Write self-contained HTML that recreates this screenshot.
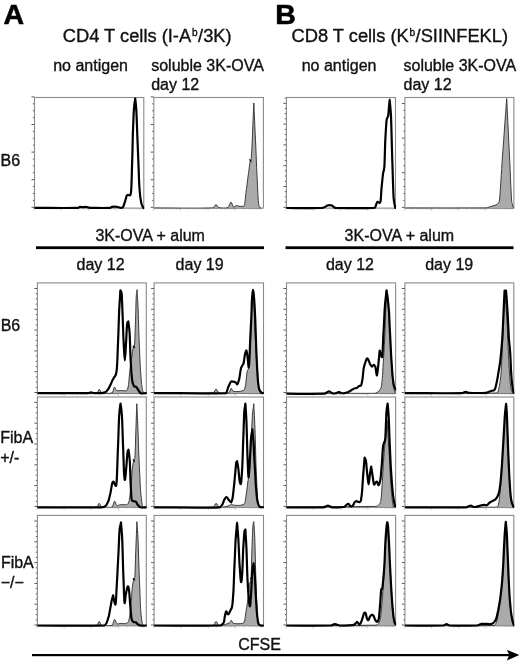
<!DOCTYPE html>
<html><head><meta charset="utf-8"><title>CFSE histograms</title>
<style>
html,body{margin:0;padding:0;background:#fff;}
body{width:520px;height:661px;overflow:hidden;}
svg{display:block;will-change:transform;}
text{font-family:"Liberation Sans",sans-serif;fill:#111;stroke:#111;stroke-width:0.35px;}
</style></head>
<body>
<svg width="520" height="661" viewBox="0 0 520 661">
<rect width="520" height="661" fill="#fff"/>
<clipPath id="c11"><rect x="34.5" y="97.0" width="109.3" height="111.2"/></clipPath>
<clipPath id="c11k"><rect x="34.5" y="97.0" width="109.8" height="113.6"/></clipPath>
<path d="M34.5,207.3 h-3 M34.5,200.4 h-1.6 M34.5,193.5 h-1.6 M34.5,186.6 h-1.6 M34.5,179.7 h-3 M34.5,172.8 h-1.6 M34.5,165.9 h-1.6 M34.5,159 h-1.6 M34.5,152.1 h-3 M34.5,145.2 h-1.6 M34.5,138.3 h-1.6 M34.5,131.4 h-1.6 M34.5,124.5 h-3 M34.5,117.6 h-1.6 M34.5,110.7 h-1.6 M34.5,103.8 h-1.6 M34.5,96.9 h-3" stroke="#555" stroke-width="1" fill="none"/>
<path d="M34,208.1 v2.6 M42.23,208.1 v1.4 M47.04,208.1 v1.4 M50.45,208.1 v1.4 M53.1,208.1 v1.4 M55.26,208.1 v1.4 M57.09,208.1 v1.4 M58.68,208.1 v1.4 M60.07,208.1 v1.4 M61.33,208.1 v2.6 M69.55,208.1 v1.4 M74.36,208.1 v1.4 M77.78,208.1 v1.4 M80.42,208.1 v1.4 M82.59,208.1 v1.4 M84.42,208.1 v1.4 M86,208.1 v1.4 M87.4,208.1 v1.4 M88.65,208.1 v2.6 M96.88,208.1 v1.4 M101.69,208.1 v1.4 M105.1,208.1 v1.4 M107.75,208.1 v1.4 M109.91,208.1 v1.4 M111.74,208.1 v1.4 M113.33,208.1 v1.4 M114.72,208.1 v1.4 M115.98,208.1 v2.6 M124.2,208.1 v1.4 M129.01,208.1 v1.4 M132.43,208.1 v1.4 M135.07,208.1 v1.4 M137.24,208.1 v1.4 M139.07,208.1 v1.4 M140.65,208.1 v1.4 M142.05,208.1 v1.4" stroke="#bbb" stroke-width="0.8" fill="none"/>
<rect x="34.5" y="97.5" width="109.3" height="110.6" fill="none" stroke="#8a8a8a" stroke-width="1.1"/>
<g clip-path="url(#c11k)"><path d="M34.5,207.9 C49,207.9 63.5,208.17 78,207.9 C78.67,207.89 79.33,206.97 80,206.89 C81,206.77 82,207.21 83,207.2 C84,207.18 85,206.74 86,206.79 C87,206.85 88,207.44 89,207.6 C90,207.75 91,207.89 92,207.9 C98,207.97 104,208.16 110,207.9 C110.67,207.87 111.33,207.03 112,206.89 C113,206.69 114,206.66 115,206.69 C116,206.72 117,206.92 118,207.1 C119,207.27 120,207.9 121,207.9 C121.67,207.9 122.33,207.99 123,207.1 C123.67,206.2 124.33,203.29 125,201.56 C125.6,200.01 126.2,196.69 126.8,195.53 C127.2,194.76 127.6,194.78 128,194.73 C128.8,194.61 129.6,196.21 130.4,194.93 C130.7,194.45 131,193.39 131.3,188.49 C131.6,183.59 131.9,169.09 132.2,160.34 C132.47,152.56 132.73,136.76 133,130.18 C133.33,121.95 133.67,112.13 134,108.05 C134.4,103.16 134.8,100.89 135.2,98.5 C135.57,101.39 135.93,104.41 136.3,110.07 C136.7,116.23 137.1,131.68 137.5,140.23 C137.83,147.35 138.17,158.25 138.5,165.37 C138.77,171.07 139.03,181.72 139.3,185.48 C139.7,191.12 140.1,196.05 140.5,198.55 C141,201.67 141.5,204.02 142,205.29 C142.57,206.72 143.13,207.16 143.7,208.1" fill="none" stroke="#000" stroke-width="2.2" stroke-linejoin="round" stroke-linecap="round"/></g>
<clipPath id="c12"><rect x="153.8" y="97.0" width="109.6" height="111.2"/></clipPath>
<clipPath id="c12k"><rect x="153.8" y="97.0" width="110.1" height="113.6"/></clipPath>
<path d="M153.8,207.3 h-3 M153.8,200.4 h-1.6 M153.8,193.5 h-1.6 M153.8,186.6 h-1.6 M153.8,179.7 h-3 M153.8,172.8 h-1.6 M153.8,165.9 h-1.6 M153.8,159 h-1.6 M153.8,152.1 h-3 M153.8,145.2 h-1.6 M153.8,138.3 h-1.6 M153.8,131.4 h-1.6 M153.8,124.5 h-3 M153.8,117.6 h-1.6 M153.8,110.7 h-1.6 M153.8,103.8 h-1.6 M153.8,96.9 h-3" stroke="#555" stroke-width="1" fill="none"/>
<path d="M153.3,208.1 v2.6 M161.55,208.1 v1.4 M166.37,208.1 v1.4 M169.8,208.1 v1.4 M172.45,208.1 v1.4 M174.62,208.1 v1.4 M176.46,208.1 v1.4 M178.04,208.1 v1.4 M179.45,208.1 v1.4 M180.7,208.1 v2.6 M188.95,208.1 v1.4 M193.77,208.1 v1.4 M197.2,208.1 v1.4 M199.85,208.1 v1.4 M202.02,208.1 v1.4 M203.86,208.1 v1.4 M205.44,208.1 v1.4 M206.85,208.1 v1.4 M208.1,208.1 v2.6 M216.35,208.1 v1.4 M221.17,208.1 v1.4 M224.6,208.1 v1.4 M227.25,208.1 v1.4 M229.42,208.1 v1.4 M231.26,208.1 v1.4 M232.84,208.1 v1.4 M234.25,208.1 v1.4 M235.5,208.1 v2.6 M243.75,208.1 v1.4 M248.57,208.1 v1.4 M252,208.1 v1.4 M254.65,208.1 v1.4 M256.82,208.1 v1.4 M258.66,208.1 v1.4 M260.24,208.1 v1.4 M261.65,208.1 v1.4" stroke="#bbb" stroke-width="0.8" fill="none"/>
<rect x="153.8" y="97.5" width="109.6" height="110.6" fill="none" stroke="#8a8a8a" stroke-width="1.1"/>
<g clip-path="url(#c12)"><path d="M154.5,208 C174,208 193.5,208.92 213,208 C214,207.95 215,204.64 216,204.58 C216.83,204.53 217.67,207.42 218.5,207.6 C221.67,208.27 224.83,208.79 228,207.6 C229,207.22 230,202.15 231,202.07 C231.83,202 232.67,206.6 233.5,207.1 C234.33,207.59 235.17,205.73 236,205.59 C236.83,205.44 237.67,206.01 238.5,206.09 C240,206.24 241.5,206.71 243,206.39 C243.5,206.28 244,206.75 244.5,204.58 C245.17,201.68 245.83,192.91 246.5,188.49 C247.17,184.08 247.83,177.64 248.5,173.41 C249,170.24 249.5,164.66 250,162.35 C250.33,160.81 250.67,161.74 251,159.84 C251.27,158.32 251.53,154.68 251.8,150.29 C252.27,142.6 252.73,126.58 253.2,117.2 C253.4,113.19 253.6,106.57 253.8,103.03 C253.97,105.82 254.14,111.03 254.31,114.19 C254.71,121.57 255.1,132.56 255.5,140.23 C256,149.9 256.5,166.27 257,175.42 C257.43,183.36 257.87,195.89 258.3,200.56 C258.7,204.87 259.1,206.16 259.5,207.1 C260,208.27 260.5,207.7 261,208 L261,208.6 L154.5,208.6 Z" fill="#aaaaaa" stroke="#333" stroke-width="0.95" stroke-linejoin="round"/></g>
<clipPath id="c13"><rect x="286.4" y="97.0" width="109.1" height="111.2"/></clipPath>
<clipPath id="c13k"><rect x="286.4" y="97.0" width="109.6" height="113.6"/></clipPath>
<path d="M286.4,207.3 h-3 M286.4,202.1 h-1.6 M286.4,196.9 h-1.6 M286.4,191.7 h-1.6 M286.4,186.5 h-3 M286.4,181.3 h-1.6 M286.4,176.1 h-1.6 M286.4,170.9 h-1.6 M286.4,165.7 h-3 M286.4,160.5 h-1.6 M286.4,155.3 h-1.6 M286.4,150.1 h-1.6 M286.4,144.9 h-3 M286.4,139.7 h-1.6 M286.4,134.5 h-1.6 M286.4,129.3 h-1.6 M286.4,124.1 h-3 M286.4,118.9 h-1.6 M286.4,113.7 h-1.6 M286.4,108.5 h-1.6 M286.4,103.3 h-3 M286.4,98.1 h-1.6" stroke="#555" stroke-width="1" fill="none"/>
<path d="M285.9,208.1 v2.6 M294.11,208.1 v1.4 M298.91,208.1 v1.4 M302.32,208.1 v1.4 M304.96,208.1 v1.4 M307.12,208.1 v1.4 M308.95,208.1 v1.4 M310.53,208.1 v1.4 M311.93,208.1 v1.4 M313.17,208.1 v2.6 M321.39,208.1 v1.4 M326.19,208.1 v1.4 M329.6,208.1 v1.4 M332.24,208.1 v1.4 M334.4,208.1 v1.4 M336.23,208.1 v1.4 M337.81,208.1 v1.4 M339.2,208.1 v1.4 M340.45,208.1 v2.6 M348.66,208.1 v1.4 M353.46,208.1 v1.4 M356.87,208.1 v1.4 M359.51,208.1 v1.4 M361.67,208.1 v1.4 M363.5,208.1 v1.4 M365.08,208.1 v1.4 M366.48,208.1 v1.4 M367.73,208.1 v2.6 M375.94,208.1 v1.4 M380.74,208.1 v1.4 M384.15,208.1 v1.4 M386.79,208.1 v1.4 M388.95,208.1 v1.4 M390.78,208.1 v1.4 M392.36,208.1 v1.4 M393.75,208.1 v1.4" stroke="#bbb" stroke-width="0.8" fill="none"/>
<rect x="286.4" y="97.5" width="109.1" height="110.6" fill="none" stroke="#8a8a8a" stroke-width="1.1"/>
<g clip-path="url(#c13k)"><path d="M286.5,208 C298.33,208 310.17,208.26 322,208 C323,207.98 324,207.4 325,206.99 C325.77,206.69 326.53,205.76 327.3,205.49 C328.07,205.22 328.83,205.07 329.6,205.08 C330.37,205.1 331.13,205.27 331.9,205.59 C332.6,205.87 333.3,206.85 334,207.2 C334.67,207.53 335.33,207.99 336,208 C348.67,208.22 361.33,208.38 374,208 C374.5,207.98 375,207.39 375.5,206.59 C376.07,205.68 376.63,202.45 377.2,201.97 C378.3,201.03 379.4,204.64 380.5,201.56 C380.87,200.54 381.23,190.86 381.6,187.49 C382.1,182.89 382.6,176.62 383.1,173.41 C383.53,170.63 383.97,171.93 384.4,166.37 C384.7,162.53 385,145.59 385.3,140.23 C385.73,132.49 386.17,123.3 386.6,120.12 C387.1,116.46 387.6,118.63 388.1,116.1 C388.47,114.2 388.85,107.78 389.22,104.49 C389.38,103.08 389.54,99.51 389.7,99.51 C389.83,99.51 389.96,103.08 390.09,104.49 C390.39,107.78 390.7,109.58 391,116.1 C391.43,125.41 391.87,148.8 392.3,160.34 C392.73,171.88 393.17,191.88 393.6,197.54 C394.2,205.38 394.8,204.51 395.4,208" fill="none" stroke="#000" stroke-width="2.2" stroke-linejoin="round" stroke-linecap="round"/></g>
<clipPath id="c14"><rect x="404.9" y="97.0" width="109" height="111.2"/></clipPath>
<clipPath id="c14k"><rect x="404.9" y="97.0" width="109.5" height="113.6"/></clipPath>
<path d="M404.9,207.3 h-3 M404.9,200.38 h-1.6 M404.9,193.46 h-1.6 M404.9,186.54 h-1.6 M404.9,179.62 h-1.6 M404.9,172.7 h-3 M404.9,165.78 h-1.6 M404.9,158.86 h-1.6 M404.9,151.94 h-1.6 M404.9,145.02 h-1.6 M404.9,138.1 h-3 M404.9,131.18 h-1.6 M404.9,124.26 h-1.6 M404.9,117.34 h-1.6 M404.9,110.42 h-1.6 M404.9,103.5 h-3" stroke="#555" stroke-width="1" fill="none"/>
<path d="M404.4,208.1 v2.6 M412.6,208.1 v1.4 M417.4,208.1 v1.4 M420.81,208.1 v1.4 M423.45,208.1 v1.4 M425.6,208.1 v1.4 M427.43,208.1 v1.4 M429.01,208.1 v1.4 M430.4,208.1 v1.4 M431.65,208.1 v2.6 M439.85,208.1 v1.4 M444.65,208.1 v1.4 M448.06,208.1 v1.4 M450.7,208.1 v1.4 M452.85,208.1 v1.4 M454.68,208.1 v1.4 M456.26,208.1 v1.4 M457.65,208.1 v1.4 M458.9,208.1 v2.6 M467.1,208.1 v1.4 M471.9,208.1 v1.4 M475.31,208.1 v1.4 M477.95,208.1 v1.4 M480.1,208.1 v1.4 M481.93,208.1 v1.4 M483.51,208.1 v1.4 M484.9,208.1 v1.4 M486.15,208.1 v2.6 M494.35,208.1 v1.4 M499.15,208.1 v1.4 M502.56,208.1 v1.4 M505.2,208.1 v1.4 M507.35,208.1 v1.4 M509.18,208.1 v1.4 M510.76,208.1 v1.4 M512.15,208.1 v1.4" stroke="#bbb" stroke-width="0.8" fill="none"/>
<rect x="404.9" y="97.5" width="109" height="110.6" fill="none" stroke="#8a8a8a" stroke-width="1.1"/>
<g clip-path="url(#c14)"><path d="M405.5,208 C432.33,208 459.17,208.25 486,208 C487,207.99 488,207.35 489,207.1 C490,206.84 491,206.43 492,206.19 C493,205.95 494,205.69 495,205.39 C495.67,205.18 496.33,204.87 497,204.38 C497.5,204.01 498,203.12 498.5,202.37 C498.83,201.87 499.17,203.3 499.5,199.96 C500.67,188.26 501.83,163.31 503,149.28 C503.86,138.9 504.73,123.86 505.59,113.81 C505.96,109.5 506.33,102.4 506.7,98.6 C506.95,102.48 507.2,109.71 507.45,114.11 C508.03,124.36 508.62,140.03 509.2,150.29 C510,164.35 510.8,188.53 511.6,199.96 C511.87,203.77 512.13,203.09 512.4,204.08 C512.7,205.19 513,206.77 513.3,207.4 C513.53,207.88 513.77,207.8 514,208 L514,208.6 L405.5,208.6 Z" fill="#aaaaaa" stroke="#333" stroke-width="0.95" stroke-linejoin="round"/></g>
<clipPath id="c21"><rect x="37.4" y="282.4" width="108.9" height="111"/></clipPath>
<clipPath id="c21k"><rect x="37.4" y="282.4" width="109.4" height="113.4"/></clipPath>
<path d="M37.4,392.5 h-3 M37.4,387.3 h-1.6 M37.4,382.1 h-1.6 M37.4,376.9 h-1.6 M37.4,371.7 h-3 M37.4,366.5 h-1.6 M37.4,361.3 h-1.6 M37.4,356.1 h-1.6 M37.4,350.9 h-3 M37.4,345.7 h-1.6 M37.4,340.5 h-1.6 M37.4,335.3 h-1.6 M37.4,330.1 h-3 M37.4,324.9 h-1.6 M37.4,319.7 h-1.6 M37.4,314.5 h-1.6 M37.4,309.3 h-3 M37.4,304.1 h-1.6 M37.4,298.9 h-1.6 M37.4,293.7 h-1.6 M37.4,288.5 h-3" stroke="#555" stroke-width="1" fill="none"/>
<path d="M36.9,393.3 v2.6 M45.1,393.3 v1.4 M49.89,393.3 v1.4 M53.29,393.3 v1.4 M55.93,393.3 v1.4 M58.09,393.3 v1.4 M59.91,393.3 v1.4 M61.49,393.3 v1.4 M62.88,393.3 v1.4 M64.12,393.3 v2.6 M72.32,393.3 v1.4 M77.11,393.3 v1.4 M80.52,393.3 v1.4 M83.15,393.3 v1.4 M85.31,393.3 v1.4 M87.13,393.3 v1.4 M88.71,393.3 v1.4 M90.1,393.3 v1.4 M91.35,393.3 v2.6 M99.55,393.3 v1.4 M104.34,393.3 v1.4 M107.74,393.3 v1.4 M110.38,393.3 v1.4 M112.54,393.3 v1.4 M114.36,393.3 v1.4 M115.94,393.3 v1.4 M117.33,393.3 v1.4 M118.58,393.3 v2.6 M126.77,393.3 v1.4 M131.56,393.3 v1.4 M134.97,393.3 v1.4 M137.6,393.3 v1.4 M139.76,393.3 v1.4 M141.58,393.3 v1.4 M143.16,393.3 v1.4 M144.55,393.3 v1.4" stroke="#bbb" stroke-width="0.8" fill="none"/>
<rect x="37.4" y="282.9" width="108.9" height="110.4" fill="none" stroke="#8a8a8a" stroke-width="1.1"/>
<g clip-path="url(#c21)"><path d="M37.5,393.1 C57.33,393.1 77.17,394.14 97,393.1 C97.77,393.06 98.53,389.27 99.3,389.27 C100.07,389.27 100.83,392.92 101.6,393.1 C105.17,393.92 108.73,394.18 112.3,392.8 C113,392.53 113.7,387.57 114.4,387.25 C115.17,386.91 115.93,390.18 116.7,390.48 C118.23,391.09 119.77,390.48 121.3,390.48 C123.07,390.48 124.83,391.43 126.6,390.48 C127.17,390.17 127.73,389.1 128.3,386.05 C128.9,382.81 129.5,372.56 130.1,368.31 C130.7,364.05 131.3,359.39 131.9,356.01 C132.37,353.39 132.83,348.76 133.3,347.14 C133.7,345.76 134.1,349.15 134.5,345.43 C134.8,342.64 135.1,331.35 135.4,324.17 C135.67,317.78 135.93,302.65 136.2,297.56 C136.41,293.55 136.62,293.62 136.83,292.06 C136.92,291.39 137.01,289.32 137.1,289.7 C137.19,290.07 137.28,293.29 137.37,294.72 C137.58,298.03 137.79,301.83 138,306.43 C138.4,315.18 138.8,333.24 139.2,341.8 C139.67,351.8 140.13,366.01 140.6,371.94 C141.2,379.55 141.8,386.49 142.4,389.57 C142.97,392.49 143.53,391.92 144.1,393.1 L144.1,393.8 L37.5,393.8 Z" fill="#aaaaaa" stroke="#333" stroke-width="0.95" stroke-linejoin="round"/></g>
<g clip-path="url(#c21k)"><path d="M37.5,393.1 C54.33,393.1 71.17,393.29 88,393.1 C89,393.09 90,392.39 91,392.39 C92,392.39 93,393.04 94,393.1 C96.33,393.24 98.67,393.2 101,393.1 C102,393.06 103,392.88 104,392.6 C104.83,392.36 105.67,391.89 106.5,391.29 C107.17,390.8 107.83,389.69 108.5,388.77 C109.17,387.84 109.83,385.95 110.5,384.74 C111.17,383.52 111.83,381.33 112.5,380.2 C113.1,379.19 113.7,378.06 114.3,377.18 C114.87,376.34 115.43,376.04 116,374.15 C116.33,373.04 116.67,371.2 117,366.59 C117.4,361.07 117.8,347.1 118.2,338.38 C118.53,331.11 118.87,316.62 119.2,310.16 C119.48,304.73 119.76,300.3 120.04,296.4 C120.16,294.73 120.28,291.16 120.4,290.5 C120.53,289.79 120.66,291.26 120.79,291.56 C121.09,292.26 121.4,290.66 121.7,294.03 C122,297.36 122.3,308.78 122.6,315.2 C122.93,322.32 123.27,335.97 123.6,341.8 C124,348.8 124.4,360.45 124.8,360.45 C125.23,360.45 125.67,347.61 126.1,341.8 C126.43,337.33 126.77,326.79 127.1,324.17 C127.5,321.02 127.9,322.12 128.3,321.44 C128.73,324.32 129.17,326.83 129.6,332.93 C129.93,337.63 130.27,354.33 130.6,359.54 C131.13,367.87 131.67,377.17 132.2,380.7 C132.8,384.68 133.4,385.25 134,386.05 C134.73,387.02 135.47,386.4 136.2,386.95 C136.8,387.4 137.4,388.86 138,389.57 C138.87,390.6 139.73,392.78 140.6,393.1 C142.4,393.77 144.2,393.1 146,393.1" fill="none" stroke="#000" stroke-width="2.2" stroke-linejoin="round" stroke-linecap="round"/></g>
<clipPath id="c22"><rect x="154.1" y="282.4" width="109.4" height="111"/></clipPath>
<clipPath id="c22k"><rect x="154.1" y="282.4" width="109.9" height="113.4"/></clipPath>
<path d="M154.1,392.5 h-3 M154.1,387.3 h-1.6 M154.1,382.1 h-1.6 M154.1,376.9 h-1.6 M154.1,371.7 h-3 M154.1,366.5 h-1.6 M154.1,361.3 h-1.6 M154.1,356.1 h-1.6 M154.1,350.9 h-3 M154.1,345.7 h-1.6 M154.1,340.5 h-1.6 M154.1,335.3 h-1.6 M154.1,330.1 h-3 M154.1,324.9 h-1.6 M154.1,319.7 h-1.6 M154.1,314.5 h-1.6 M154.1,309.3 h-3 M154.1,304.1 h-1.6 M154.1,298.9 h-1.6 M154.1,293.7 h-1.6 M154.1,288.5 h-3" stroke="#555" stroke-width="1" fill="none"/>
<path d="M153.6,393.3 v2.6 M161.83,393.3 v1.4 M166.65,393.3 v1.4 M170.07,393.3 v1.4 M172.72,393.3 v1.4 M174.88,393.3 v1.4 M176.71,393.3 v1.4 M178.3,393.3 v1.4 M179.7,393.3 v1.4 M180.95,393.3 v2.6 M189.18,393.3 v1.4 M194,393.3 v1.4 M197.42,393.3 v1.4 M200.07,393.3 v1.4 M202.23,393.3 v1.4 M204.06,393.3 v1.4 M205.65,393.3 v1.4 M207.05,393.3 v1.4 M208.3,393.3 v2.6 M216.53,393.3 v1.4 M221.35,393.3 v1.4 M224.77,393.3 v1.4 M227.42,393.3 v1.4 M229.58,393.3 v1.4 M231.41,393.3 v1.4 M233,393.3 v1.4 M234.4,393.3 v1.4 M235.65,393.3 v2.6 M243.88,393.3 v1.4 M248.7,393.3 v1.4 M252.12,393.3 v1.4 M254.77,393.3 v1.4 M256.93,393.3 v1.4 M258.76,393.3 v1.4 M260.35,393.3 v1.4 M261.75,393.3 v1.4" stroke="#bbb" stroke-width="0.8" fill="none"/>
<rect x="154.1" y="282.9" width="109.4" height="110.4" fill="none" stroke="#8a8a8a" stroke-width="1.1"/>
<g clip-path="url(#c22)"><path d="M154.5,393.1 C174.1,393.1 193.7,394.19 213.3,393.1 C214.2,393.05 215.1,389.07 216,389.07 C217,389.07 218,392.86 219,393.1 C222.33,393.91 225.67,393.91 229,392.8 C229.77,392.54 230.53,388.51 231.3,388.26 C231.87,388.08 232.43,391.2 233,391.29 C236.53,391.83 240.07,391.75 243.6,390.48 C244.2,390.26 244.8,388.75 245.4,386.05 C245.97,383.49 246.53,374.61 247.1,371.94 C247.7,369.1 248.3,370.55 248.9,366.59 C249.37,363.52 249.83,354.99 250.3,347.14 C250.7,340.42 251.1,323.51 251.5,315.2 C251.76,309.86 252.01,303.57 252.27,298.97 C252.38,297 252.49,293.75 252.6,292.02 C252.72,292.62 252.84,293.75 252.96,294.43 C253.24,296.03 253.52,295.89 253.8,300.08 C254.2,306.06 254.6,322.15 255,330.31 C255.3,336.43 255.6,345.9 255.9,350.47 C256.5,359.61 257.1,372.73 257.7,378.69 C258.27,384.32 258.83,389.28 259.4,391.39 C259.93,393.37 260.47,392.53 261,393.1 L261,393.8 L154.5,393.8 Z" fill="#aaaaaa" stroke="#333" stroke-width="0.95" stroke-linejoin="round"/></g>
<g clip-path="url(#c22k)"><path d="M154.5,393.1 C178.33,393.1 202.17,393.58 226,393.1 C226.3,393.09 226.6,392.05 226.9,391.39 C227.5,390.05 228.1,387.25 228.7,386.05 C229.47,384.51 230.23,382.35 231,381.71 C231.7,381.13 232.4,381.61 233.1,381.71 C233.97,381.84 234.83,382.1 235.7,382.52 C236.3,382.81 236.9,384.75 237.5,384.23 C238.07,383.75 238.63,381.18 239.2,378.99 C239.8,376.67 240.4,370.57 241,368.31 C241.4,366.8 241.8,366.37 242.2,365.69 C242.67,364.89 243.13,364.69 243.6,363.07 C244.07,361.44 244.53,355.91 245,354.2 C245.5,352.37 246,350.18 246.5,350.57 C246.83,350.83 247.17,354.42 247.5,356.52 C247.93,359.24 248.37,367.78 248.8,367.6 C249.07,367.49 249.33,360.11 249.6,355.51 C249.87,350.91 250.13,340.14 250.4,335.15 C250.7,329.54 251,323.91 251.3,318.12 C251.5,314.26 251.7,304.64 251.9,301.09 C252.1,297.53 252.3,294.75 252.5,293.02 C252.67,291.58 252.83,289.9 253,289.9 C253.2,289.9 253.4,291.56 253.6,293.02 C253.83,294.73 254.07,297.98 254.3,301.09 C254.6,305.09 254.9,312.33 255.2,318.12 C255.4,321.98 255.6,330.31 255.8,335.15 C256,339.99 256.2,348.16 256.4,352.28 C256.67,357.78 256.93,365.11 257.2,369.11 C257.5,373.62 257.8,379.77 258.1,382.32 C258.47,385.43 258.83,388.18 259.2,389.07 C260.07,391.18 260.93,392.12 261.8,392.9 C262.2,393.26 262.6,393.03 263,393.1" fill="none" stroke="#000" stroke-width="2.2" stroke-linejoin="round" stroke-linecap="round"/></g>
<clipPath id="c23"><rect x="286.5" y="282.4" width="109.1" height="111"/></clipPath>
<clipPath id="c23k"><rect x="286.5" y="282.4" width="109.6" height="113.4"/></clipPath>
<path d="M286.5,392.5 h-3 M286.5,387.3 h-1.6 M286.5,382.1 h-1.6 M286.5,376.9 h-1.6 M286.5,371.7 h-3 M286.5,366.5 h-1.6 M286.5,361.3 h-1.6 M286.5,356.1 h-1.6 M286.5,350.9 h-3 M286.5,345.7 h-1.6 M286.5,340.5 h-1.6 M286.5,335.3 h-1.6 M286.5,330.1 h-3 M286.5,324.9 h-1.6 M286.5,319.7 h-1.6 M286.5,314.5 h-1.6 M286.5,309.3 h-3 M286.5,304.1 h-1.6 M286.5,298.9 h-1.6 M286.5,293.7 h-1.6 M286.5,288.5 h-3" stroke="#555" stroke-width="1" fill="none"/>
<path d="M286,393.3 v2.6 M294.21,393.3 v1.4 M299.01,393.3 v1.4 M302.42,393.3 v1.4 M305.06,393.3 v1.4 M307.22,393.3 v1.4 M309.05,393.3 v1.4 M310.63,393.3 v1.4 M312.03,393.3 v1.4 M313.27,393.3 v2.6 M321.49,393.3 v1.4 M326.29,393.3 v1.4 M329.7,393.3 v1.4 M332.34,393.3 v1.4 M334.5,393.3 v1.4 M336.33,393.3 v1.4 M337.91,393.3 v1.4 M339.3,393.3 v1.4 M340.55,393.3 v2.6 M348.76,393.3 v1.4 M353.56,393.3 v1.4 M356.97,393.3 v1.4 M359.61,393.3 v1.4 M361.77,393.3 v1.4 M363.6,393.3 v1.4 M365.18,393.3 v1.4 M366.58,393.3 v1.4 M367.83,393.3 v2.6 M376.04,393.3 v1.4 M380.84,393.3 v1.4 M384.25,393.3 v1.4 M386.89,393.3 v1.4 M389.05,393.3 v1.4 M390.88,393.3 v1.4 M392.46,393.3 v1.4 M393.85,393.3 v1.4" stroke="#bbb" stroke-width="0.8" fill="none"/>
<rect x="286.5" y="282.9" width="109.1" height="110.4" fill="none" stroke="#8a8a8a" stroke-width="1.1"/>
<g clip-path="url(#c23)"><path d="M286.5,393.7 C315.63,393.7 344.77,394.09 373.9,393.7 C375.07,393.69 376.23,392.93 377.4,392.29 C378.27,391.82 379.13,390.95 380,389.77 C380.5,389.1 381,388.14 381.5,385.74 C381.83,384.14 382.17,379.52 382.5,375.66 C382.83,371.81 383.17,363.29 383.5,358.53 C383.87,353.3 384.23,347.14 384.6,340.39 C384.9,334.87 385.2,321.62 385.5,315.2 C385.8,308.77 386.1,298.48 386.4,295.04 C386.63,292.37 386.87,294.03 387.1,293.63 C387.2,293.46 387.3,292.44 387.4,293.02 C387.52,293.72 387.64,296.71 387.76,298.16 C388.04,301.56 388.32,306.05 388.6,310.16 C389,316.02 389.4,326.91 389.8,333.34 C390.2,339.76 390.6,349.75 391,355.51 C391.43,361.74 391.87,370.82 392.3,375.66 C392.63,379.39 392.97,383.8 393.3,385.74 C393.7,388.08 394.1,389.55 394.5,390.78 C394.83,391.81 395.17,392.73 395.5,393.7 L395.5,393.8 L286.5,393.8 Z" fill="#aaaaaa" stroke="#333" stroke-width="0.95" stroke-linejoin="round"/></g>
<g clip-path="url(#c23k)"><path d="M286.5,393.7 C299,393.7 311.5,394.05 324,393.7 C325,393.68 326,392.79 327,392.39 C327.67,392.13 328.33,391.39 329,391.39 C329.67,391.39 330.33,392.09 331,392.39 C331.67,392.69 332.33,393.42 333,393.5 C334,393.62 335,393.32 336,393.1 C336.83,392.92 337.67,392.17 338.5,392.09 C339.17,392.03 339.83,392.45 340.5,392.6 C341.4,392.79 342.3,393.33 343.2,393.3 C344.63,393.25 346.07,392.73 347.5,392.29 C348.67,391.93 349.83,391.06 351,390.48 C351.9,390.03 352.8,389 353.7,388.67 C354.87,388.23 356.03,388.25 357.2,387.76 C357.8,387.51 358.4,386.38 359,386.05 C359.73,385.64 360.47,386.39 361.2,385.14 C361.63,384.4 362.07,381.47 362.5,378.99 C362.9,376.7 363.3,370.39 363.7,368.31 C364.17,365.88 364.63,364.27 365.1,363.07 C365.7,361.52 366.3,359.19 366.9,358.63 C367.37,358.2 367.83,358.86 368.3,359.54 C368.87,360.37 369.43,363.08 370,363.97 C370.7,365.08 371.4,366.47 372.1,366.59 C372.7,366.7 373.3,364.78 373.9,364.78 C374.37,364.78 374.83,365.23 375.3,366.59 C375.87,368.25 376.43,375.75 377,375.46 C377.43,375.24 377.87,368.1 378.3,364.78 C378.63,362.28 378.95,357.7 379.28,354.9 C379.42,353.7 379.56,351.16 379.7,350.67 C379.82,350.26 379.94,351.43 380.06,351.73 C380.34,352.43 380.62,353.74 380.9,354.2 C381.37,354.96 381.83,359.26 382.3,356.01 C382.7,353.23 383.1,339.42 383.5,332.93 C383.97,325.37 384.43,312.38 384.9,306.43 C385.27,301.67 385.65,298.34 386.02,295.14 C386.18,293.77 386.34,290.75 386.5,290.3 C386.61,290 386.72,291.86 386.83,292.48 C387.09,293.92 387.34,295.62 387.6,297.56 C388.07,301.08 388.53,305.92 389,311.77 C389.33,315.95 389.67,327.29 390,332.93 C390.47,340.83 390.93,353.04 391.4,359.54 C391.83,365.58 392.27,373.42 392.7,377.18 C393.13,380.93 393.57,384.57 394,386.05 C394.6,388.08 395.2,388.4 395.8,389.57" fill="none" stroke="#000" stroke-width="2.2" stroke-linejoin="round" stroke-linecap="round"/></g>
<clipPath id="c24"><rect x="404.9" y="282.4" width="108.9" height="111"/></clipPath>
<clipPath id="c24k"><rect x="404.9" y="282.4" width="109.4" height="113.4"/></clipPath>
<path d="M404.9,392.5 h-3 M404.9,387.3 h-1.6 M404.9,382.1 h-1.6 M404.9,376.9 h-1.6 M404.9,371.7 h-3 M404.9,366.5 h-1.6 M404.9,361.3 h-1.6 M404.9,356.1 h-1.6 M404.9,350.9 h-3 M404.9,345.7 h-1.6 M404.9,340.5 h-1.6 M404.9,335.3 h-1.6 M404.9,330.1 h-3 M404.9,324.9 h-1.6 M404.9,319.7 h-1.6 M404.9,314.5 h-1.6 M404.9,309.3 h-3 M404.9,304.1 h-1.6 M404.9,298.9 h-1.6 M404.9,293.7 h-1.6 M404.9,288.5 h-3" stroke="#555" stroke-width="1" fill="none"/>
<path d="M404.4,393.3 v2.6 M412.6,393.3 v1.4 M417.39,393.3 v1.4 M420.79,393.3 v1.4 M423.43,393.3 v1.4 M425.59,393.3 v1.4 M427.41,393.3 v1.4 M428.99,393.3 v1.4 M430.38,393.3 v1.4 M431.62,393.3 v2.6 M439.82,393.3 v1.4 M444.61,393.3 v1.4 M448.02,393.3 v1.4 M450.65,393.3 v1.4 M452.81,393.3 v1.4 M454.63,393.3 v1.4 M456.21,393.3 v1.4 M457.6,393.3 v1.4 M458.85,393.3 v2.6 M467.05,393.3 v1.4 M471.84,393.3 v1.4 M475.24,393.3 v1.4 M477.88,393.3 v1.4 M480.04,393.3 v1.4 M481.86,393.3 v1.4 M483.44,393.3 v1.4 M484.83,393.3 v1.4 M486.07,393.3 v2.6 M494.27,393.3 v1.4 M499.06,393.3 v1.4 M502.47,393.3 v1.4 M505.1,393.3 v1.4 M507.26,393.3 v1.4 M509.08,393.3 v1.4 M510.66,393.3 v1.4 M512.05,393.3 v1.4" stroke="#bbb" stroke-width="0.8" fill="none"/>
<rect x="404.9" y="282.9" width="108.9" height="110.4" fill="none" stroke="#8a8a8a" stroke-width="1.1"/>
<g clip-path="url(#c24)"><path d="M405.5,393.1 C436,393.1 466.5,393.96 497,393.1 C497.5,393.09 498,391.33 498.5,390 C498.8,389.2 499.1,387.12 499.4,385.6 C499.87,383.24 500.33,380.37 500.8,376.3 C501.1,373.68 501.4,366.69 501.7,362 C501.97,357.83 502.23,350.24 502.5,345 C502.77,339.76 503.03,330.29 503.3,325 C503.53,320.37 503.77,313.1 504,310 C504.28,306.28 504.56,303.48 504.84,300.9 C504.96,299.79 505.08,297 505.2,297 C505.31,297 505.42,299.8 505.53,300.9 C505.79,303.48 506.04,306.85 506.3,310 C506.6,313.68 506.9,319.75 507.2,325 C507.47,329.67 507.73,339.96 508,345 C508.33,351.3 508.67,360.04 509,365 C509.33,369.96 509.67,376.6 510,380 C510.33,383.4 510.67,387.52 511,389 C511.5,391.23 512,391.73 512.5,393.1 L512.5,393.8 L405.5,393.8 Z" fill="#aaaaaa" stroke="#333" stroke-width="0.95" stroke-linejoin="round"/></g>
<g clip-path="url(#c24k)"><path d="M405.5,393.1 C424.33,393.1 443.17,393.45 462,393.1 C463.17,393.08 464.33,391.85 465.5,391.8 C466.5,391.76 467.5,392.76 468.5,392.8 C474.33,393.04 480.17,393.04 486,392.8 C487,392.76 488,392.08 489,391.8 C490,391.52 491,391.04 492,390.8 C492.67,390.64 493.33,390.81 494,390.4 C494.4,390.16 494.8,389.57 495.2,388.5 C495.8,386.9 496.4,383.53 497,381 C497.53,378.75 498.07,374.35 498.6,371.6 C499.1,369.02 499.6,365.4 500.1,362.2 C500.43,360.07 500.77,355.85 501.1,352.8 C501.5,349.14 501.9,343.47 502.3,338.5 C502.53,335.6 502.77,329.15 503,325 C503.2,321.44 503.4,315.16 503.6,311.3 C503.77,308.08 503.93,302.93 504.1,300 C504.27,297.07 504.43,292.95 504.6,290.6 C504.83,291.2 505.07,293 505.3,293 C505.53,293 505.77,291.2 506,290.6 C506.2,292.45 506.4,295.65 506.6,298 C506.9,301.52 507.2,307 507.5,311.3 C507.73,314.65 507.97,321.15 508.2,325 C508.43,328.85 508.67,335.74 508.9,338.5 C509.33,343.62 509.77,347.26 510.2,352.8 C510.5,356.64 510.8,367.11 511.1,371.6 C511.33,375.1 511.57,379.05 511.8,381 C512.2,384.35 512.6,388.41 513,390.3 C513.33,391.87 513.67,392.23 514,393.2" fill="none" stroke="#000" stroke-width="2.2" stroke-linejoin="round" stroke-linecap="round"/></g>
<clipPath id="c31"><rect x="37.4" y="396.5" width="108.9" height="110.8"/></clipPath>
<clipPath id="c31k"><rect x="37.4" y="396.5" width="109.4" height="113.2"/></clipPath>
<path d="M37.4,506.4 h-3 M37.4,501.2 h-1.6 M37.4,496 h-1.6 M37.4,490.8 h-1.6 M37.4,485.6 h-3 M37.4,480.4 h-1.6 M37.4,475.2 h-1.6 M37.4,470 h-1.6 M37.4,464.8 h-3 M37.4,459.6 h-1.6 M37.4,454.4 h-1.6 M37.4,449.2 h-1.6 M37.4,444 h-3 M37.4,438.8 h-1.6 M37.4,433.6 h-1.6 M37.4,428.4 h-1.6 M37.4,423.2 h-3 M37.4,418 h-1.6 M37.4,412.8 h-1.6 M37.4,407.6 h-1.6 M37.4,402.4 h-3" stroke="#555" stroke-width="1" fill="none"/>
<path d="M36.9,507.2 v2.6 M45.1,507.2 v1.4 M49.89,507.2 v1.4 M53.29,507.2 v1.4 M55.93,507.2 v1.4 M58.09,507.2 v1.4 M59.91,507.2 v1.4 M61.49,507.2 v1.4 M62.88,507.2 v1.4 M64.12,507.2 v2.6 M72.32,507.2 v1.4 M77.11,507.2 v1.4 M80.52,507.2 v1.4 M83.15,507.2 v1.4 M85.31,507.2 v1.4 M87.13,507.2 v1.4 M88.71,507.2 v1.4 M90.1,507.2 v1.4 M91.35,507.2 v2.6 M99.55,507.2 v1.4 M104.34,507.2 v1.4 M107.74,507.2 v1.4 M110.38,507.2 v1.4 M112.54,507.2 v1.4 M114.36,507.2 v1.4 M115.94,507.2 v1.4 M117.33,507.2 v1.4 M118.58,507.2 v2.6 M126.77,507.2 v1.4 M131.56,507.2 v1.4 M134.97,507.2 v1.4 M137.6,507.2 v1.4 M139.76,507.2 v1.4 M141.58,507.2 v1.4 M143.16,507.2 v1.4 M144.55,507.2 v1.4" stroke="#bbb" stroke-width="0.8" fill="none"/>
<rect x="37.4" y="397" width="108.9" height="110.2" fill="none" stroke="#8a8a8a" stroke-width="1.1"/>
<g clip-path="url(#c31)"><path d="M37.5,507.3 C57.27,507.3 77.03,508.4 96.8,507.3 C97.6,507.26 98.4,503.26 99.2,503.26 C99.93,503.26 100.67,507.12 101.4,507.3 C105.03,508.18 108.67,508.43 112.3,507 C113.03,506.71 113.77,501.44 114.5,501.24 C115.33,501.01 116.17,505.05 117,505.48 C118.03,506.02 119.07,504.76 120.1,504.67 C121.87,504.53 123.63,505.14 125.4,504.67 C126.57,504.37 127.73,505.24 128.9,501.95 C129.6,499.97 130.3,491.81 131,486.09 C131.47,482.28 131.93,471.97 132.4,468.32 C132.87,464.67 133.33,462.24 133.8,460.35 C134.2,458.72 134.6,460.92 135,455.9 C135.3,452.14 135.6,436.76 135.9,429.35 C136.11,424.15 136.32,416.48 136.53,411.39 C136.62,409.21 136.71,405.62 136.8,403.7 C136.88,404.95 136.96,407.3 137.04,408.73 C137.23,412.05 137.41,416.41 137.6,420.46 C138.1,431.3 138.6,451.6 139.1,461.25 C139.67,472.2 140.23,486.94 140.8,493.16 C141.4,499.75 142,504.24 142.6,506.49 C143.07,508.24 143.53,507.03 144,507.3 L144,507.7 L37.5,507.7 Z" fill="#aaaaaa" stroke="#333" stroke-width="0.95" stroke-linejoin="round"/></g>
<g clip-path="url(#c31k)"><path d="M37.5,507.3 C58.83,507.3 80.17,507.44 101.5,507.3 C102.33,507.29 103.17,507.06 104,506.8 C104.7,506.57 105.4,506.41 106.1,505.58 C106.97,504.55 107.83,502.36 108.7,500.23 C109.27,498.84 109.83,495.48 110.4,493.16 C111,490.71 111.6,485.2 112.2,483.37 C112.67,481.94 113.13,481.41 113.6,481.65 C114.13,481.93 114.67,485.06 115.2,485.19 C115.67,485.29 116.13,487.87 116.6,482.46 C117.07,477.05 117.53,457.28 118,447.02 C118.4,438.22 118.8,421.1 119.2,415.21 C119.63,408.83 120.07,406.57 120.5,403.7 C120.97,406.57 121.43,408.6 121.9,415.21 C122.3,420.87 122.7,437.98 123.1,447.02 C123.43,454.55 123.77,468.78 124.1,473.67 C124.4,478.08 124.7,480.48 125,479.83 C125.4,478.97 125.8,472.06 126.2,468.32 C126.63,464.28 127.07,455.34 127.5,452.37 C127.83,450.08 128.17,450.4 128.5,449.74 C128.93,452.62 129.37,455.52 129.8,461.25 C130.07,464.79 130.33,477.5 130.6,482.46 C130.9,488.03 131.2,496.65 131.5,498.41 C132.1,501.94 132.7,500.77 133.3,501.14 C134.17,501.68 135.03,501.04 135.9,501.65 C136.47,502.04 137.03,504.06 137.6,504.67 C138.5,505.66 139.4,507.06 140.3,507.3 C142.2,507.8 144.1,507.3 146,507.3" fill="none" stroke="#000" stroke-width="2.2" stroke-linejoin="round" stroke-linecap="round"/></g>
<clipPath id="c32"><rect x="154.1" y="396.5" width="109.4" height="110.8"/></clipPath>
<clipPath id="c32k"><rect x="154.1" y="396.5" width="109.9" height="113.2"/></clipPath>
<path d="M154.1,506.4 h-3 M154.1,501.2 h-1.6 M154.1,496 h-1.6 M154.1,490.8 h-1.6 M154.1,485.6 h-3 M154.1,480.4 h-1.6 M154.1,475.2 h-1.6 M154.1,470 h-1.6 M154.1,464.8 h-3 M154.1,459.6 h-1.6 M154.1,454.4 h-1.6 M154.1,449.2 h-1.6 M154.1,444 h-3 M154.1,438.8 h-1.6 M154.1,433.6 h-1.6 M154.1,428.4 h-1.6 M154.1,423.2 h-3 M154.1,418 h-1.6 M154.1,412.8 h-1.6 M154.1,407.6 h-1.6 M154.1,402.4 h-3" stroke="#555" stroke-width="1" fill="none"/>
<path d="M153.6,507.2 v2.6 M161.83,507.2 v1.4 M166.65,507.2 v1.4 M170.07,507.2 v1.4 M172.72,507.2 v1.4 M174.88,507.2 v1.4 M176.71,507.2 v1.4 M178.3,507.2 v1.4 M179.7,507.2 v1.4 M180.95,507.2 v2.6 M189.18,507.2 v1.4 M194,507.2 v1.4 M197.42,507.2 v1.4 M200.07,507.2 v1.4 M202.23,507.2 v1.4 M204.06,507.2 v1.4 M205.65,507.2 v1.4 M207.05,507.2 v1.4 M208.3,507.2 v2.6 M216.53,507.2 v1.4 M221.35,507.2 v1.4 M224.77,507.2 v1.4 M227.42,507.2 v1.4 M229.58,507.2 v1.4 M231.41,507.2 v1.4 M233,507.2 v1.4 M234.4,507.2 v1.4 M235.65,507.2 v2.6 M243.88,507.2 v1.4 M248.7,507.2 v1.4 M252.12,507.2 v1.4 M254.77,507.2 v1.4 M256.93,507.2 v1.4 M258.76,507.2 v1.4 M260.35,507.2 v1.4 M261.75,507.2 v1.4" stroke="#bbb" stroke-width="0.8" fill="none"/>
<rect x="154.1" y="397" width="109.4" height="110.2" fill="none" stroke="#8a8a8a" stroke-width="1.1"/>
<g clip-path="url(#c32)"><path d="M154.5,507.3 C174.1,507.3 193.7,508.39 213.3,507.3 C214.23,507.25 215.17,503.26 216.1,503.26 C217.07,503.26 218.03,507.16 219,507.3 C222.53,507.82 226.07,506.45 229.6,505.58 C230.17,505.44 230.73,503.82 231.3,503.77 C231.87,503.71 232.43,505.18 233,505.18 C236.83,505.18 240.67,506.31 244.5,503.77 C245.07,503.39 245.63,498.05 246.2,494.88 C246.8,491.53 247.4,484.51 248,480.74 C248.6,476.98 249.2,474.06 249.8,468.32 C250.2,464.5 250.6,453.96 251,447.02 C251.47,438.91 251.93,421.85 252.4,415.21 C252.73,410.56 253.05,409.43 253.38,407.15 C253.52,406.17 253.66,404.56 253.8,403.7 C253.92,405.62 254.04,409.21 254.16,411.39 C254.44,416.48 254.72,422.49 255,429.35 C255.4,439.14 255.8,461.21 256.2,470.14 C256.7,481.3 257.2,494.73 257.7,500.23 C258.13,505 258.57,505.6 259,506.39 C259.67,507.6 260.33,507 261,507.3 L261,507.7 L154.5,507.7 Z" fill="#aaaaaa" stroke="#333" stroke-width="0.95" stroke-linejoin="round"/></g>
<g clip-path="url(#c32k)"><path d="M154.5,507.3 C176.17,507.3 197.83,508.07 219.5,507.3 C220.47,507.27 221.43,505.78 222.4,504.47 C223,503.66 223.6,500.73 224.2,499.83 C224.97,498.67 225.73,497.19 226.5,497.2 C227.27,497.22 228.03,499.23 228.8,499.93 C229.57,500.63 230.33,502.5 231.1,502.15 C231.6,501.92 232.1,500.26 232.6,497.91 C233.07,495.71 233.53,489.79 234,486.09 C234.4,482.93 234.8,477.25 235.2,473.67 C235.53,470.7 235.87,464.82 236.2,462.97 C236.5,461.3 236.8,461.68 237.1,461.25 C237.5,463.02 237.9,465.67 238.3,468.32 C238.73,471.19 239.17,478.69 239.6,480.74 C240.07,482.95 240.53,485.26 241,483.37 C241.4,481.74 241.8,475 242.2,468.32 C242.57,462.21 242.93,446.64 243.3,438.23 C243.63,430.59 243.97,416.82 244.3,411.67 C244.56,407.71 244.81,407.67 245.07,406.09 C245.18,405.41 245.29,403.31 245.4,403.7 C245.5,404.05 245.6,407.3 245.7,408.73 C245.93,412.05 246.17,415.26 246.4,420.46 C246.77,428.63 247.13,447.48 247.5,455.9 C247.83,463.56 248.17,476.55 248.5,477.21 C248.93,478.07 249.37,467 249.8,461.25 C250.2,455.95 250.6,442.79 251,438.23 C251.33,434.51 251.65,433.77 251.98,432.01 C252.12,431.26 252.26,429.11 252.4,429.35 C252.52,429.55 252.64,432.38 252.76,433.59 C253.04,436.39 253.32,439.65 253.6,443.48 C253.97,448.49 254.33,459.01 254.7,464.79 C255.1,471.09 255.5,481.46 255.9,486.09 C256.37,491.5 256.83,497.93 257.3,500.23 C258,503.68 258.7,505.65 259.4,506.39 C260.6,507.66 261.8,507 263,507.3" fill="none" stroke="#000" stroke-width="2.2" stroke-linejoin="round" stroke-linecap="round"/></g>
<clipPath id="c33"><rect x="286.5" y="396.5" width="109.1" height="110.8"/></clipPath>
<clipPath id="c33k"><rect x="286.5" y="396.5" width="109.6" height="113.2"/></clipPath>
<path d="M286.5,506.4 h-3 M286.5,501.2 h-1.6 M286.5,496 h-1.6 M286.5,490.8 h-1.6 M286.5,485.6 h-3 M286.5,480.4 h-1.6 M286.5,475.2 h-1.6 M286.5,470 h-1.6 M286.5,464.8 h-3 M286.5,459.6 h-1.6 M286.5,454.4 h-1.6 M286.5,449.2 h-1.6 M286.5,444 h-3 M286.5,438.8 h-1.6 M286.5,433.6 h-1.6 M286.5,428.4 h-1.6 M286.5,423.2 h-3 M286.5,418 h-1.6 M286.5,412.8 h-1.6 M286.5,407.6 h-1.6 M286.5,402.4 h-3" stroke="#555" stroke-width="1" fill="none"/>
<path d="M286,507.2 v2.6 M294.21,507.2 v1.4 M299.01,507.2 v1.4 M302.42,507.2 v1.4 M305.06,507.2 v1.4 M307.22,507.2 v1.4 M309.05,507.2 v1.4 M310.63,507.2 v1.4 M312.03,507.2 v1.4 M313.27,507.2 v2.6 M321.49,507.2 v1.4 M326.29,507.2 v1.4 M329.7,507.2 v1.4 M332.34,507.2 v1.4 M334.5,507.2 v1.4 M336.33,507.2 v1.4 M337.91,507.2 v1.4 M339.3,507.2 v1.4 M340.55,507.2 v2.6 M348.76,507.2 v1.4 M353.56,507.2 v1.4 M356.97,507.2 v1.4 M359.61,507.2 v1.4 M361.77,507.2 v1.4 M363.6,507.2 v1.4 M365.18,507.2 v1.4 M366.58,507.2 v1.4 M367.83,507.2 v2.6 M376.04,507.2 v1.4 M380.84,507.2 v1.4 M384.25,507.2 v1.4 M386.89,507.2 v1.4 M389.05,507.2 v1.4 M390.88,507.2 v1.4 M392.46,507.2 v1.4 M393.85,507.2 v1.4" stroke="#bbb" stroke-width="0.8" fill="none"/>
<rect x="286.5" y="397" width="109.1" height="110.2" fill="none" stroke="#8a8a8a" stroke-width="1.1"/>
<g clip-path="url(#c33)"><path d="M286.5,507.3 C316.2,507 345.9,507.11 375.6,506.39 C376.77,506.36 377.93,505.83 379.1,504.67 C379.7,504.08 380.3,503.77 380.9,500.23 C381.37,497.48 381.83,488.41 382.3,482.46 C382.7,477.36 383.1,466.31 383.5,461.25 C383.93,455.78 384.37,449.29 384.8,445.3 C385.13,442.23 385.47,439.44 385.8,436.31 C386.08,433.69 386.36,428.21 386.64,425 C386.76,423.63 386.88,421.37 387,420.16 C387.18,422.17 387.36,425.93 387.54,428.21 C387.96,433.54 388.38,440.9 388.8,447.02 C389.37,455.27 389.93,471.6 390.5,478.93 C391.1,486.68 391.7,495.46 392.3,500.23 C392.7,503.41 393.1,506.11 393.5,507 C394,508.11 394.5,507.2 395,507.3 L395,507.7 L286.5,507.7 Z" fill="#aaaaaa" stroke="#333" stroke-width="0.95" stroke-linejoin="round"/></g>
<g clip-path="url(#c33k)"><path d="M286.5,507.3 C298.67,507.3 310.83,507.49 323,507.3 C323.83,507.29 324.67,506.84 325.5,506.59 C326.3,506.35 327.1,505.58 327.9,505.58 C328.7,505.58 329.5,506.34 330.3,506.59 C331.03,506.83 331.77,507.28 332.5,507.3 C336.33,507.4 340.17,507.6 344,507 C344.9,506.86 345.8,505.24 346.7,504.67 C347.27,504.32 347.83,503.56 348.4,503.77 C349.17,504.05 349.93,506.12 350.7,506.39 C351.4,506.64 352.1,506.2 352.8,505.58 C353.4,505.06 354,503 354.6,502.35 C355.17,501.74 355.73,501.19 356.3,501.14 C357,501.08 357.7,501.95 358.4,501.95 C359.17,501.95 359.93,502.78 360.7,501.14 C361.1,500.29 361.5,496.75 361.9,493.16 C362.37,488.97 362.83,478.94 363.3,473.67 C363.6,470.25 363.91,465.67 364.21,462.51 C364.34,461.15 364.47,458.23 364.6,457.72 C364.74,457.17 364.88,458.48 365.02,458.78 C365.35,459.48 365.67,459.36 366,461.25 C366.4,463.58 366.8,470.66 367.2,473.67 C367.67,477.19 368.13,484.28 368.6,484.28 C369.07,484.28 369.53,476.37 370,473.67 C370.4,471.36 370.8,468.37 371.2,466.61 C371.63,468.8 372.07,472.98 372.5,475.39 C372.97,477.99 373.43,483.37 373.9,484.28 C374.47,485.38 375.03,482.87 375.6,482.46 C376.07,482.12 376.53,481.31 377,481.65 C377.6,482.09 378.2,485.58 378.8,485.19 C379.37,484.81 379.93,482.2 380.5,478.93 C380.93,476.42 381.37,469.49 381.8,464.79 C382.2,460.45 382.6,450.29 383,447.02 C383.37,444.02 383.73,443.86 384.1,442.67 C384.5,441.38 384.9,442.62 385.3,438.23 C385.7,433.84 386.1,416.78 386.5,411.67 C386.87,406.99 387.23,405.69 387.6,403.7 C387.93,406.57 388.27,409.84 388.6,415.21 C388.97,421.11 389.33,436.28 389.7,443.48 C390.1,451.33 390.5,462.53 390.9,468.32 C391.37,475.09 391.83,483.22 392.3,487.81 C392.7,491.75 393.1,496.09 393.5,498.41 C393.97,501.13 394.43,503.98 394.9,505.58 C395.1,506.27 395.3,506.19 395.5,506.49" fill="none" stroke="#000" stroke-width="2.2" stroke-linejoin="round" stroke-linecap="round"/></g>
<clipPath id="c34"><rect x="404.9" y="396.5" width="108.9" height="110.8"/></clipPath>
<clipPath id="c34k"><rect x="404.9" y="396.5" width="109.4" height="113.2"/></clipPath>
<path d="M404.9,506.4 h-3 M404.9,501.2 h-1.6 M404.9,496 h-1.6 M404.9,490.8 h-1.6 M404.9,485.6 h-3 M404.9,480.4 h-1.6 M404.9,475.2 h-1.6 M404.9,470 h-1.6 M404.9,464.8 h-3 M404.9,459.6 h-1.6 M404.9,454.4 h-1.6 M404.9,449.2 h-1.6 M404.9,444 h-3 M404.9,438.8 h-1.6 M404.9,433.6 h-1.6 M404.9,428.4 h-1.6 M404.9,423.2 h-3 M404.9,418 h-1.6 M404.9,412.8 h-1.6 M404.9,407.6 h-1.6 M404.9,402.4 h-3" stroke="#555" stroke-width="1" fill="none"/>
<path d="M404.4,507.2 v2.6 M412.6,507.2 v1.4 M417.39,507.2 v1.4 M420.79,507.2 v1.4 M423.43,507.2 v1.4 M425.59,507.2 v1.4 M427.41,507.2 v1.4 M428.99,507.2 v1.4 M430.38,507.2 v1.4 M431.62,507.2 v2.6 M439.82,507.2 v1.4 M444.61,507.2 v1.4 M448.02,507.2 v1.4 M450.65,507.2 v1.4 M452.81,507.2 v1.4 M454.63,507.2 v1.4 M456.21,507.2 v1.4 M457.6,507.2 v1.4 M458.85,507.2 v2.6 M467.05,507.2 v1.4 M471.84,507.2 v1.4 M475.24,507.2 v1.4 M477.88,507.2 v1.4 M480.04,507.2 v1.4 M481.86,507.2 v1.4 M483.44,507.2 v1.4 M484.83,507.2 v1.4 M486.07,507.2 v2.6 M494.27,507.2 v1.4 M499.06,507.2 v1.4 M502.47,507.2 v1.4 M505.1,507.2 v1.4 M507.26,507.2 v1.4 M509.08,507.2 v1.4 M510.66,507.2 v1.4 M512.05,507.2 v1.4" stroke="#bbb" stroke-width="0.8" fill="none"/>
<rect x="404.9" y="397" width="108.9" height="110.2" fill="none" stroke="#8a8a8a" stroke-width="1.1"/>
<g clip-path="url(#c34)"><path d="M405.5,507.3 C436,507.3 466.5,507.94 497,507.3 C497.43,507.29 497.87,506.22 498.3,505 C498.63,504.06 498.97,502.28 499.3,499.7 C499.7,496.61 500.1,489.41 500.5,485 C500.97,479.86 501.43,471.71 501.9,466 C502.27,461.51 502.63,454.05 503,449 C503.33,444.41 503.67,436.82 504,432 C504.33,427.18 504.67,418.64 505,415 C505.37,410.99 505.73,407.5 506.1,405 C506.4,407.5 506.7,410.41 507,415 C507.2,418.06 507.4,427.18 507.6,432 C507.8,436.82 508,444.55 508.2,449 C508.43,454.19 508.67,461.79 508.9,466 C509.2,471.42 509.5,478.91 509.8,483 C510.13,487.55 510.47,493.86 510.8,496.5 C511.2,499.67 511.6,502.03 512,503.5 C512.43,505.09 512.87,506.03 513.3,507.3 L513.3,507.7 L405.5,507.7 Z" fill="#aaaaaa" stroke="#333" stroke-width="0.95" stroke-linejoin="round"/></g>
<g clip-path="url(#c34k)"><path d="M405.5,507.3 C425.67,507.3 445.83,507.54 466,507.3 C466.83,507.29 467.67,506.65 468.5,506.4 C469.27,506.17 470.03,505.57 470.8,505.6 C471.53,505.63 472.27,506.39 473,506.6 C473.67,506.79 474.33,507.06 475,507 C476.53,506.86 478.07,506.22 479.6,505.9 C481.07,505.6 482.53,504.91 484,504.8 C484.87,504.74 485.73,505.61 486.6,505.3 C487.77,504.88 488.93,502.89 490.1,502.2 C491.27,501.51 492.43,500.93 493.6,500.4 C494.23,500.11 494.87,499.85 495.5,499.3 C496.2,498.69 496.9,497.57 497.6,496.3 C498.17,495.27 498.73,493.46 499.3,491.2 C499.7,489.61 500.1,486.02 500.5,482.7 C500.97,478.82 501.43,471.4 501.9,465.8 C502.23,461.8 502.57,453.6 502.9,448.8 C503.23,444 503.57,436.69 503.9,431.9 C504.23,427.11 504.57,418.61 504.9,415 C505.3,410.67 505.7,406.67 506.1,403.9 C506.37,406.67 506.63,410.47 506.9,415 C507.1,418.4 507.3,427.11 507.5,431.9 C507.7,436.69 507.9,444.37 508.1,448.8 C508.33,453.97 508.57,461.6 508.8,465.8 C509.1,471.2 509.4,478.61 509.7,482.7 C510.03,487.25 510.37,493.79 510.7,496.3 C511.13,499.57 511.57,501.79 512,503.1 C512.57,504.82 513.13,505.7 513.7,507" fill="none" stroke="#000" stroke-width="2.2" stroke-linejoin="round" stroke-linecap="round"/></g>
<clipPath id="c41"><rect x="37.4" y="514.9" width="108.9" height="111"/></clipPath>
<clipPath id="c41k"><rect x="37.4" y="514.9" width="109.4" height="113.4"/></clipPath>
<path d="M37.4,625 h-3 M37.4,619.8 h-1.6 M37.4,614.6 h-1.6 M37.4,609.4 h-1.6 M37.4,604.2 h-3 M37.4,599 h-1.6 M37.4,593.8 h-1.6 M37.4,588.6 h-1.6 M37.4,583.4 h-3 M37.4,578.2 h-1.6 M37.4,573 h-1.6 M37.4,567.8 h-1.6 M37.4,562.6 h-3 M37.4,557.4 h-1.6 M37.4,552.2 h-1.6 M37.4,547 h-1.6 M37.4,541.8 h-3 M37.4,536.6 h-1.6 M37.4,531.4 h-1.6 M37.4,526.2 h-1.6 M37.4,521 h-3" stroke="#555" stroke-width="1" fill="none"/>
<path d="M36.9,625.8 v2.6 M45.1,625.8 v1.4 M49.89,625.8 v1.4 M53.29,625.8 v1.4 M55.93,625.8 v1.4 M58.09,625.8 v1.4 M59.91,625.8 v1.4 M61.49,625.8 v1.4 M62.88,625.8 v1.4 M64.12,625.8 v2.6 M72.32,625.8 v1.4 M77.11,625.8 v1.4 M80.52,625.8 v1.4 M83.15,625.8 v1.4 M85.31,625.8 v1.4 M87.13,625.8 v1.4 M88.71,625.8 v1.4 M90.1,625.8 v1.4 M91.35,625.8 v2.6 M99.55,625.8 v1.4 M104.34,625.8 v1.4 M107.74,625.8 v1.4 M110.38,625.8 v1.4 M112.54,625.8 v1.4 M114.36,625.8 v1.4 M115.94,625.8 v1.4 M117.33,625.8 v1.4 M118.58,625.8 v2.6 M126.77,625.8 v1.4 M131.56,625.8 v1.4 M134.97,625.8 v1.4 M137.6,625.8 v1.4 M139.76,625.8 v1.4 M141.58,625.8 v1.4 M143.16,625.8 v1.4 M144.55,625.8 v1.4" stroke="#bbb" stroke-width="0.8" fill="none"/>
<rect x="37.4" y="515.4" width="108.9" height="110.4" fill="none" stroke="#8a8a8a" stroke-width="1.1"/>
<g clip-path="url(#c41)"><path d="M37.5,625.5 C57.27,625.5 77.03,626.6 96.8,625.5 C97.6,625.46 98.4,621.45 99.2,621.45 C99.93,621.45 100.67,625.32 101.4,625.5 C105.03,626.38 108.67,626.63 112.3,625.2 C113.03,624.91 113.77,619.62 114.5,619.43 C115.33,619.22 116.17,623.27 117,623.78 C118,624.39 119,623.41 120,623.38 C122,623.3 124,623.99 126,623.38 C126.97,623.08 127.93,623.28 128.9,620.14 C129.6,617.86 130.3,609.98 131,604.25 C131.47,600.44 131.93,589.97 132.4,586.45 C132.87,582.92 133.33,580.82 133.8,579.37 C134.13,578.33 134.47,581.96 134.8,577.65 C135.17,572.9 135.53,555.75 135.9,547.39 C136.13,542.08 136.37,534.5 136.6,529.41 C136.7,527.22 136.8,523.62 136.9,521.7 C137.01,522.96 137.12,525.31 137.23,526.73 C137.49,530.07 137.74,533.2 138,538.49 C138.47,548.11 138.93,569.05 139.4,579.37 C139.87,589.68 140.33,605.73 140.8,611.34 C141.4,618.54 142,622.33 142.6,624.59 C143.07,626.35 143.53,625.2 144,625.5 L144,626.3 L37.5,626.3 Z" fill="#aaaaaa" stroke="#333" stroke-width="0.95" stroke-linejoin="round"/></g>
<g clip-path="url(#c41k)"><path d="M37.5,625.5 C59.67,625.5 81.83,625.97 104,625.5 C104.7,625.49 105.4,624.91 106.1,623.78 C106.97,622.38 107.83,619.34 108.7,616.6 C109.27,614.81 109.83,610.36 110.4,607.79 C110.83,605.83 111.27,602.31 111.7,600.61 C112.17,598.78 112.63,596.67 113.1,595.35 C113.57,597.12 114.03,601.21 114.5,602.43 C114.9,603.48 115.3,606.11 115.7,603.34 C116.1,600.58 116.5,589.06 116.9,582.91 C117.37,575.73 117.83,564.12 118.3,556.3 C118.73,549.04 119.17,534.8 119.6,529.69 C119.93,525.84 120.25,526.09 120.58,524.66 C120.72,524.05 120.86,522.1 121,522.51 C121.12,522.85 121.24,525.94 121.36,527.3 C121.64,530.47 121.92,532.76 122.2,538.49 C122.57,545.99 122.93,565.34 123.3,574 C123.7,583.46 124.1,599.41 124.5,602.43 C124.9,605.46 125.3,597.2 125.7,595.35 C126.17,593.19 126.63,589.68 127.1,588.27 C127.47,587.16 127.83,585.92 128.2,586.45 C128.53,586.92 128.87,589.17 129.2,591.81 C129.57,594.71 129.93,602.37 130.3,605.97 C130.7,609.91 131.1,616.61 131.5,618.42 C132.1,621.14 132.7,621.5 133.3,621.96 C134.17,622.62 135.03,622 135.9,622.36 C136.47,622.6 137.03,623.74 137.6,624.08 C138.5,624.63 139.4,625.37 140.3,625.5 C142.2,625.77 144.1,625.5 146,625.5" fill="none" stroke="#000" stroke-width="2.2" stroke-linejoin="round" stroke-linecap="round"/></g>
<clipPath id="c42"><rect x="154.1" y="514.9" width="109.4" height="111"/></clipPath>
<clipPath id="c42k"><rect x="154.1" y="514.9" width="109.9" height="113.4"/></clipPath>
<path d="M154.1,625 h-3 M154.1,619.8 h-1.6 M154.1,614.6 h-1.6 M154.1,609.4 h-1.6 M154.1,604.2 h-3 M154.1,599 h-1.6 M154.1,593.8 h-1.6 M154.1,588.6 h-1.6 M154.1,583.4 h-3 M154.1,578.2 h-1.6 M154.1,573 h-1.6 M154.1,567.8 h-1.6 M154.1,562.6 h-3 M154.1,557.4 h-1.6 M154.1,552.2 h-1.6 M154.1,547 h-1.6 M154.1,541.8 h-3 M154.1,536.6 h-1.6 M154.1,531.4 h-1.6 M154.1,526.2 h-1.6 M154.1,521 h-3" stroke="#555" stroke-width="1" fill="none"/>
<path d="M153.6,625.8 v2.6 M161.83,625.8 v1.4 M166.65,625.8 v1.4 M170.07,625.8 v1.4 M172.72,625.8 v1.4 M174.88,625.8 v1.4 M176.71,625.8 v1.4 M178.3,625.8 v1.4 M179.7,625.8 v1.4 M180.95,625.8 v2.6 M189.18,625.8 v1.4 M194,625.8 v1.4 M197.42,625.8 v1.4 M200.07,625.8 v1.4 M202.23,625.8 v1.4 M204.06,625.8 v1.4 M205.65,625.8 v1.4 M207.05,625.8 v1.4 M208.3,625.8 v2.6 M216.53,625.8 v1.4 M221.35,625.8 v1.4 M224.77,625.8 v1.4 M227.42,625.8 v1.4 M229.58,625.8 v1.4 M231.41,625.8 v1.4 M233,625.8 v1.4 M234.4,625.8 v1.4 M235.65,625.8 v2.6 M243.88,625.8 v1.4 M248.7,625.8 v1.4 M252.12,625.8 v1.4 M254.77,625.8 v1.4 M256.93,625.8 v1.4 M258.76,625.8 v1.4 M260.35,625.8 v1.4 M261.75,625.8 v1.4" stroke="#bbb" stroke-width="0.8" fill="none"/>
<rect x="154.1" y="515.4" width="109.4" height="110.4" fill="none" stroke="#8a8a8a" stroke-width="1.1"/>
<g clip-path="url(#c42)"><path d="M154.5,625.5 C174.1,625.5 193.7,626.6 213.3,625.5 C214.2,625.45 215.1,621.45 216,621.45 C217,621.45 218,625.41 219,625.5 C222.53,625.81 226.07,624.18 229.6,622.87 C230.17,622.66 230.73,620.09 231.3,620.14 C231.87,620.18 232.43,623.03 233,623.17 C236.17,623.95 239.33,623.87 242.5,623.38 C243.17,623.27 243.83,623.03 244.5,621.05 C245.07,619.36 245.63,613.47 246.2,610.43 C246.8,607.2 247.4,602.79 248,598.89 C248.6,594.99 249.2,586.23 249.8,582.91 C250.2,580.69 250.6,584.85 251,579.37 C251.33,574.79 251.67,555.35 252,547.39 C252.3,540.24 252.6,530.11 252.9,526.05 C253.11,523.2 253.32,523.86 253.53,523 C253.62,522.63 253.71,521.2 253.8,521.7 C253.9,522.25 254,525.31 254.1,526.73 C254.33,530.07 254.57,532.69 254.8,538.49 C255.17,547.6 255.53,569.84 255.9,579.37 C256.37,591.48 256.83,607.98 257.3,614.88 C257.7,620.79 258.1,623.25 258.5,624.59 C259,626.26 259.5,625.2 260,625.5 L260,626.3 L154.5,626.3 Z" fill="#aaaaaa" stroke="#333" stroke-width="0.95" stroke-linejoin="round"/></g>
<g clip-path="url(#c42k)"><path d="M154.5,625.5 C176.33,625.5 198.17,625.89 220,625.5 C220.83,625.49 221.67,624.71 222.5,624.08 C223,623.71 223.5,623.34 224,621.96 C224.27,621.22 224.53,617.74 224.8,616.6 C225.23,614.73 225.67,611.69 226.1,611.34 C226.57,610.95 227.03,613.56 227.5,613.97 C227.9,614.31 228.3,614.38 228.7,613.97 C229.27,613.38 229.83,611.53 230.4,610.43 C231,609.26 231.6,609.14 232.2,605.97 C232.6,603.86 233,597.85 233.4,591.81 C233.77,586.27 234.13,572.32 234.5,565.1 C234.9,557.22 235.3,544.39 235.7,538.49 C236.03,533.68 236.35,530.47 236.68,527.3 C236.82,525.94 236.96,522.51 237.1,522.51 C237.22,522.51 237.34,525.94 237.46,527.3 C237.74,530.47 238.02,534.29 238.3,538.49 C238.73,545 239.17,559.16 239.6,565.1 C240.07,571.49 240.53,580.64 241,582 C241.4,583.16 241.8,579.12 242.2,574 C242.57,569.31 242.93,553.17 243.3,547.39 C243.7,541.1 244.1,534.6 244.5,531.41 C244.71,529.73 244.92,530.55 245.13,530.21 C245.22,530.06 245.31,529.05 245.4,529.69 C245.5,530.4 245.6,533.5 245.7,535 C245.93,538.51 246.17,542.51 246.4,547.39 C246.77,555.08 247.13,572.73 247.5,579.37 C247.97,587.81 248.43,596.55 248.9,600.61 C249.3,604.09 249.7,607.27 250.1,605.97 C250.47,604.78 250.83,596.62 251.2,591.81 C251.6,586.56 252,574.49 252.4,570.46 C252.8,566.43 253.2,565.15 253.6,563.38 C253.97,566.04 254.33,569.44 254.7,574 C255.1,578.98 255.5,591.28 255.9,597.07 C256.3,602.86 256.7,611.38 257.1,614.88 C257.57,618.95 258.03,622.75 258.5,623.78 C259.4,625.76 260.3,625.21 261.2,625.5 C261.8,625.69 262.4,625.5 263,625.5" fill="none" stroke="#000" stroke-width="2.2" stroke-linejoin="round" stroke-linecap="round"/></g>
<clipPath id="c43"><rect x="286.5" y="514.9" width="109.1" height="111"/></clipPath>
<clipPath id="c43k"><rect x="286.5" y="514.9" width="109.6" height="113.4"/></clipPath>
<path d="M286.5,625 h-3 M286.5,619.8 h-1.6 M286.5,614.6 h-1.6 M286.5,609.4 h-1.6 M286.5,604.2 h-3 M286.5,599 h-1.6 M286.5,593.8 h-1.6 M286.5,588.6 h-1.6 M286.5,583.4 h-3 M286.5,578.2 h-1.6 M286.5,573 h-1.6 M286.5,567.8 h-1.6 M286.5,562.6 h-3 M286.5,557.4 h-1.6 M286.5,552.2 h-1.6 M286.5,547 h-1.6 M286.5,541.8 h-3 M286.5,536.6 h-1.6 M286.5,531.4 h-1.6 M286.5,526.2 h-1.6 M286.5,521 h-3" stroke="#555" stroke-width="1" fill="none"/>
<path d="M286,625.8 v2.6 M294.21,625.8 v1.4 M299.01,625.8 v1.4 M302.42,625.8 v1.4 M305.06,625.8 v1.4 M307.22,625.8 v1.4 M309.05,625.8 v1.4 M310.63,625.8 v1.4 M312.03,625.8 v1.4 M313.27,625.8 v2.6 M321.49,625.8 v1.4 M326.29,625.8 v1.4 M329.7,625.8 v1.4 M332.34,625.8 v1.4 M334.5,625.8 v1.4 M336.33,625.8 v1.4 M337.91,625.8 v1.4 M339.3,625.8 v1.4 M340.55,625.8 v2.6 M348.76,625.8 v1.4 M353.56,625.8 v1.4 M356.97,625.8 v1.4 M359.61,625.8 v1.4 M361.77,625.8 v1.4 M363.6,625.8 v1.4 M365.18,625.8 v1.4 M366.58,625.8 v1.4 M367.83,625.8 v2.6 M376.04,625.8 v1.4 M380.84,625.8 v1.4 M384.25,625.8 v1.4 M386.89,625.8 v1.4 M389.05,625.8 v1.4 M390.88,625.8 v1.4 M392.46,625.8 v1.4 M393.85,625.8 v1.4" stroke="#bbb" stroke-width="0.8" fill="none"/>
<rect x="286.5" y="515.4" width="109.1" height="110.4" fill="none" stroke="#8a8a8a" stroke-width="1.1"/>
<g clip-path="url(#c43)"><path d="M286.5,625.5 C316.2,625.4 345.9,625.7 375.6,625.2 C376.57,625.18 377.53,624.76 378.5,623.68 C379.07,623.04 379.63,621.3 380.2,619.13 C380.57,617.72 380.93,614.04 381.3,611.03 C381.63,608.3 381.97,602.51 382.3,598.89 C382.7,594.54 383.1,588.59 383.5,582.91 C383.87,577.7 384.23,566.23 384.6,560.45 C385,554.13 385.4,544.44 385.8,540.21 C386.27,535.27 386.73,531.11 387.2,528.07 C387.67,531.11 388.13,534.48 388.6,540.21 C389.07,545.94 389.53,560.79 390,568.54 C390.5,576.84 391,589.96 391.5,596.87 C391.93,602.86 392.37,610.27 392.8,614.07 C393.2,617.58 393.6,620.9 394,622.67 C394.33,624.14 394.67,624.56 395,625.5 L395,626.3 L286.5,626.3 Z" fill="#aaaaaa" stroke="#333" stroke-width="0.95" stroke-linejoin="round"/></g>
<g clip-path="url(#c43k)"><path d="M286.5,625.5 C301.33,625.5 316.17,625.75 331,625.5 C331.73,625.49 332.47,624.79 333.2,624.59 C333.9,624.39 334.6,624.05 335.3,624.08 C336,624.11 336.7,624.59 337.4,624.79 C338.1,624.99 338.8,625.48 339.5,625.5 C343.93,625.6 348.37,625.6 352.8,625.2 C353.67,625.12 354.53,624.32 355.4,623.78 C356,623.4 356.6,621.86 357.2,621.96 C357.97,622.09 358.73,624.59 359.5,624.59 C360.07,624.59 360.63,623.06 361.2,621.96 C361.8,620.79 362.4,618.11 363,616.6 C363.4,615.59 363.8,613.52 364.2,613.06 C364.67,612.52 365.13,612.27 365.6,613.06 C366.03,613.79 366.47,617.45 366.9,618.42 C367.37,619.46 367.83,620.37 368.3,620.14 C368.87,619.85 369.43,617.32 370,616.6 C370.6,615.83 371.2,614.99 371.8,614.88 C372.37,614.77 372.93,615.06 373.5,615.79 C374.1,616.55 374.7,619.24 375.3,620.14 C375.87,620.99 376.43,622.2 377,621.96 C377.6,621.71 378.2,621.14 378.8,618.42 C379.2,616.61 379.6,610 380,605.97 C380.4,601.95 380.8,592.61 381.2,589.99 C381.57,587.59 381.93,590.13 382.3,588.27 C382.73,586.06 383.17,579.69 383.6,575.62 C383.87,573.12 384.13,569.31 384.4,565.1 C384.77,559.31 385.13,545.96 385.5,540.31 C385.83,535.18 386.17,530.08 386.5,527.06 C386.73,524.95 386.97,522.34 387.2,522.2 C387.47,522.05 387.73,523.52 388,526.05 C388.33,529.2 388.67,536.7 389,542.23 C389.33,547.77 389.67,559.37 390,565.1 C390.47,573.13 390.93,584.1 391.4,590.8 C391.7,595.1 392,600.82 392.3,603.95 C392.7,608.13 393.1,614.05 393.5,616.6 C393.93,619.35 394.37,621.45 394.8,622.67 C395.13,623.6 395.47,623.68 395.8,624.18" fill="none" stroke="#000" stroke-width="2.2" stroke-linejoin="round" stroke-linecap="round"/></g>
<clipPath id="c44"><rect x="404.9" y="514.9" width="108.9" height="111"/></clipPath>
<clipPath id="c44k"><rect x="404.9" y="514.9" width="109.4" height="113.4"/></clipPath>
<path d="M404.9,625 h-3 M404.9,619.8 h-1.6 M404.9,614.6 h-1.6 M404.9,609.4 h-1.6 M404.9,604.2 h-3 M404.9,599 h-1.6 M404.9,593.8 h-1.6 M404.9,588.6 h-1.6 M404.9,583.4 h-3 M404.9,578.2 h-1.6 M404.9,573 h-1.6 M404.9,567.8 h-1.6 M404.9,562.6 h-3 M404.9,557.4 h-1.6 M404.9,552.2 h-1.6 M404.9,547 h-1.6 M404.9,541.8 h-3 M404.9,536.6 h-1.6 M404.9,531.4 h-1.6 M404.9,526.2 h-1.6 M404.9,521 h-3" stroke="#555" stroke-width="1" fill="none"/>
<path d="M404.4,625.8 v2.6 M412.6,625.8 v1.4 M417.39,625.8 v1.4 M420.79,625.8 v1.4 M423.43,625.8 v1.4 M425.59,625.8 v1.4 M427.41,625.8 v1.4 M428.99,625.8 v1.4 M430.38,625.8 v1.4 M431.62,625.8 v2.6 M439.82,625.8 v1.4 M444.61,625.8 v1.4 M448.02,625.8 v1.4 M450.65,625.8 v1.4 M452.81,625.8 v1.4 M454.63,625.8 v1.4 M456.21,625.8 v1.4 M457.6,625.8 v1.4 M458.85,625.8 v2.6 M467.05,625.8 v1.4 M471.84,625.8 v1.4 M475.24,625.8 v1.4 M477.88,625.8 v1.4 M480.04,625.8 v1.4 M481.86,625.8 v1.4 M483.44,625.8 v1.4 M484.83,625.8 v1.4 M486.07,625.8 v2.6 M494.27,625.8 v1.4 M499.06,625.8 v1.4 M502.47,625.8 v1.4 M505.1,625.8 v1.4 M507.26,625.8 v1.4 M509.08,625.8 v1.4 M510.66,625.8 v1.4 M512.05,625.8 v1.4" stroke="#bbb" stroke-width="0.8" fill="none"/>
<rect x="404.9" y="515.4" width="108.9" height="110.4" fill="none" stroke="#8a8a8a" stroke-width="1.1"/>
<g clip-path="url(#c44)"><path d="M405.5,625.5 C435,625.5 464.5,626.33 494,625.5 C494.77,625.48 495.53,624.09 496.3,622.5 C496.83,621.4 497.37,618.34 497.9,616 C498.43,613.66 498.97,609.22 499.5,606 C500,602.98 500.5,597.95 501,594 C501.43,590.58 501.87,584.36 502.3,580 C502.63,576.65 502.97,571.54 503.3,566.8 C503.57,563.01 503.83,554.41 504.1,549.9 C504.4,544.83 504.7,536.88 505,533 C505.27,529.55 505.53,526.25 505.8,524 C506.07,526.25 506.33,529.09 506.6,533 C506.83,536.42 507.07,545.11 507.3,549.9 C507.53,554.69 507.77,562 508,566.8 C508.23,571.6 508.47,579.85 508.7,583.8 C509.03,589.45 509.37,597.1 509.7,600.7 C510.17,605.74 510.63,611.45 511.1,614.3 C511.67,617.76 512.23,621.14 512.8,623 C513.2,624.31 513.6,624.67 514,625.5 L514,626.3 L405.5,626.3 Z" fill="#aaaaaa" stroke="#333" stroke-width="0.95" stroke-linejoin="round"/></g>
<g clip-path="url(#c44k)"><path d="M405.5,625.5 C418.1,625.5 430.7,625.84 443.3,625.5 C444.37,625.47 445.43,624.2 446.5,624.2 C447.57,624.2 448.63,625.46 449.7,625.5 C458.47,625.83 467.23,625.72 476,625.5 C477.2,625.47 478.4,624.93 479.6,624.6 C480.17,624.45 480.73,623.82 481.3,623.8 C484.23,623.68 487.17,624.1 490.1,624.1 C490.73,624.1 491.37,624.01 492,623.8 C492.47,623.64 492.93,623.17 493.4,622.8 C493.93,622.38 494.47,621.59 495,621 C495.33,620.63 495.67,620.28 496,619.4 C496.57,617.9 497.13,614.91 497.7,612.6 C498.43,609.61 499.17,604.97 499.9,600.7 C500.57,596.81 501.23,589.8 501.9,583.8 C502.3,580.2 502.7,572.56 503.1,566.8 C503.37,562.96 503.63,554.41 503.9,549.9 C504.2,544.83 504.5,536.76 504.8,533 C505.13,528.82 505.47,524.67 505.8,521.9 C506.13,524.67 506.47,528.33 506.8,533 C507.03,536.27 507.27,545.11 507.5,549.9 C507.73,554.69 507.97,562 508.2,566.8 C508.43,571.6 508.67,579.85 508.9,583.8 C509.23,589.45 509.57,597.1 509.9,600.7 C510.37,605.74 510.83,611.47 511.3,614.3 C511.87,617.73 512.43,620.84 513,622.8 C513.33,623.95 513.67,624.47 514,625.3" fill="none" stroke="#000" stroke-width="2.2" stroke-linejoin="round" stroke-linecap="round"/></g>
<rect x="36" y="246.3" width="228" height="2.8" fill="#000"/>
<rect x="285.5" y="246.3" width="228" height="2.8" fill="#000"/>
<rect x="32" y="654" width="479" height="2.2" fill="#000"/>
<path d="M506.8,649.8 L519.3,655.1 L506.8,660.4 L509.3,655.1 Z" fill="#000"/>
<path d="M249.8,159.8 l1.2,1.6" stroke="#111" stroke-width="1.4" stroke-linecap="round"/>
<path d="M133.3,346 l1.2,1.6" stroke="#111" stroke-width="1.4" stroke-linecap="round"/>
<path d="M133.3,459.7 l1.2,1.6" stroke="#111" stroke-width="1.4" stroke-linecap="round"/>
<path d="M133.3,578.5 l1.2,1.6" stroke="#111" stroke-width="1.4" stroke-linecap="round"/>
<path d="M250.6,578.4 l1.2,1.6" stroke="#111" stroke-width="1.4" stroke-linecap="round"/>
<text x="3.5" y="23.5" font-size="28.5" font-weight="bold" text-anchor="start" style="stroke:#000;stroke-width:0.6px;fill:#000">A</text>
<text x="275.2" y="23.5" font-size="28.5" font-weight="bold" text-anchor="start" style="stroke:#000;stroke-width:0.6px;fill:#000">B</text>
<text x="62.8" y="41.5" font-size="18.3" font-weight="normal" text-anchor="start">CD4 T cells (I-A<tspan font-size="10.07" dy="-5.8" dx="0.8">b</tspan><tspan dy="5.8" dx="0.5">/3K)</tspan></text>
<text x="291.5" y="41.5" font-size="18.3" font-weight="normal" text-anchor="start">CD8 T cells (K<tspan font-size="10.07" dy="-5.8" dx="0.8">b</tspan><tspan dy="5.8" dx="0.5">/SIINFEKL)</tspan></text>
<text x="53.2" y="71.2" font-size="16" font-weight="normal" text-anchor="start">no antigen</text>
<text x="151.2" y="71.2" font-size="16" font-weight="normal" text-anchor="start">soluble 3K-OVA</text>
<text x="151.2" y="89.5" font-size="16" font-weight="normal" text-anchor="start">day 12</text>
<text x="301.7" y="71.2" font-size="16" font-weight="normal" text-anchor="start">no antigen</text>
<text x="403.5" y="71.2" font-size="16" font-weight="normal" text-anchor="start">soluble 3K-OVA</text>
<text x="403.5" y="89.5" font-size="16" font-weight="normal" text-anchor="start">day 12</text>
<text x="0.5" y="165.8" font-size="16" font-weight="normal" text-anchor="start">B6</text>
<text x="95.4" y="241.2" font-size="16" font-weight="normal" text-anchor="start">3K-OVA + alum</text>
<text x="344.6" y="241.2" font-size="16" font-weight="normal" text-anchor="start">3K-OVA + alum</text>
<text x="76.5" y="270" font-size="16" font-weight="normal" text-anchor="start">day 12</text>
<text x="175.6" y="270" font-size="16" font-weight="normal" text-anchor="start">day 19</text>
<text x="325.9" y="270" font-size="16" font-weight="normal" text-anchor="start">day 12</text>
<text x="425.2" y="270" font-size="16" font-weight="normal" text-anchor="start">day 19</text>
<text x="0.7" y="330.6" font-size="16" font-weight="normal" text-anchor="start">B6</text>
<text x="0.2" y="443.1" font-size="16" font-weight="normal" text-anchor="start">FibA</text>
<text x="0.2" y="462.6" font-size="16" font-weight="normal" text-anchor="start">+/-</text>
<text x="0.9" y="567.7" font-size="16" font-weight="normal" text-anchor="start">FibA</text>
<text x="0.7" y="587.9" font-size="16" font-weight="normal" text-anchor="start">−/−</text>
<text x="238.2" y="649.6" font-size="16" font-weight="normal" text-anchor="start">CFSE</text>
</svg>
</body></html>
